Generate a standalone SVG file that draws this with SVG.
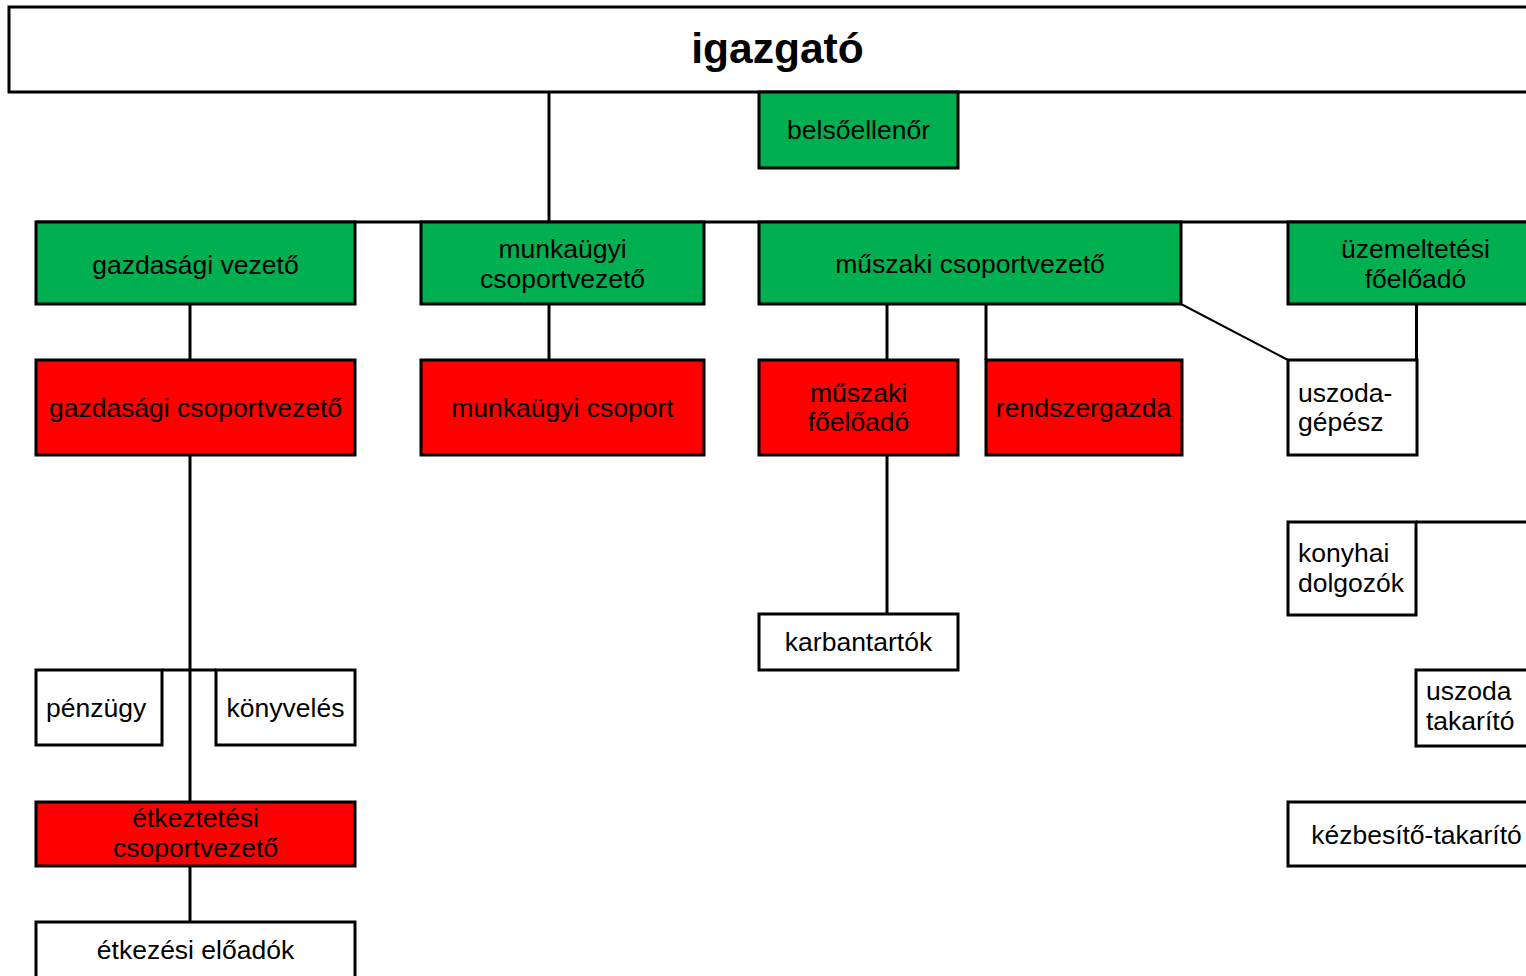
<svg xmlns="http://www.w3.org/2000/svg" width="1526" height="976" viewBox="0 0 1526 976">
<style>
rect{stroke:#000;stroke-width:3}
.w{fill:#fff}
.g{fill:#00B050}
.r{fill:#FF0000}
.bg{fill:#fff;stroke:none}
text{font-family:"Liberation Sans",Arial,sans-serif;font-size:26.5px;fill:#000}
.c{text-anchor:middle}
.t{font-size:42.5px;font-weight:bold}
.ln line{stroke:#000;stroke-width:3}
</style>
<rect class="bg" x="0" y="0" width="1526" height="976"/>
<g class="ln" id="connectors">
<line x1="549" y1="92" x2="549" y2="222"/>
<line x1="36" y1="222" x2="1540" y2="222"/>
<line x1="190" y1="304" x2="190" y2="360"/>
<line x1="549" y1="304" x2="549" y2="360"/>
<line x1="887" y1="304" x2="887" y2="360"/>
<line x1="986" y1="304" x2="986" y2="360"/>
<line x1="1416.5" y1="304" x2="1416.5" y2="360"/>
<line x1="1181" y1="304" x2="1288" y2="360" style="stroke-width:2"/>
<line x1="190" y1="455" x2="190" y2="802"/>
<line x1="162" y1="670" x2="216" y2="670"/>
<line x1="190" y1="866" x2="190" y2="922"/>
<line x1="887" y1="455" x2="887" y2="614"/>
<line x1="1416" y1="522" x2="1540" y2="522"/>
</g>
<g id="igazgato"><rect class="w" x="9" y="7" width="1530" height="85"/><text class="c t" x="777.5" y="63">igazgató</text></g>
<g id="belsoellenor"><rect class="g" x="759" y="92" width="199" height="76"/><text class="c" x="858.5" y="138.5">belsőellenőr</text></g>
<g id="gazdasagi-vezeto"><rect class="g" x="36" y="222" width="319" height="82"/><text class="c" x="195.5" y="273.5">gazdasági vezető</text></g>
<g id="munkaugyi-csoportvezeto"><rect class="g" x="421" y="222" width="283" height="82"/><text class="c" x="562.5" y="258">munkaügyi</text><text class="c" x="562.5" y="287.5">csoportvezető</text></g>
<g id="muszaki-csoportvezeto"><rect class="g" x="759" y="222" width="422" height="82"/><text class="c" x="970" y="273">műszaki csoportvezető</text></g>
<g id="uzemeltetesi-foeloado"><rect class="g" x="1288" y="222" width="260" height="82"/><text class="c" x="1415.5" y="258">üzemeltetési</text><text class="c" x="1415.5" y="288">főelőadó</text></g>
<g id="gazdasagi-csoportvezeto"><rect class="r" x="36" y="360" width="319" height="95"/><text class="c" x="195.5" y="417">gazdasági csoportvezető</text></g>
<g id="munkaugyi-csoport"><rect class="r" x="421" y="360" width="283" height="95"/><text class="c" x="562.5" y="417">munkaügyi csoport</text></g>
<g id="muszaki-foeloado"><rect class="r" x="759" y="360" width="199" height="95"/><text class="c" x="858.5" y="401.5">műszaki</text><text class="c" x="858.5" y="431">főelőadó</text></g>
<g id="rendszergazda"><rect class="r" x="986" y="360" width="196" height="95"/><text class="c" x="1083.5" y="417">rendszergazda</text></g>
<g id="uszoda-gepesz"><rect class="w" x="1288" y="360" width="129" height="95"/><text x="1298" y="401.5">uszoda-</text><text x="1298" y="431">gépész</text></g>
<g id="konyhai-dolgozok"><rect class="w" x="1288" y="522" width="128" height="93"/><text x="1298" y="562">konyhai</text><text x="1298" y="592">dolgozók</text></g>
<g id="karbantartok"><rect class="w" x="759" y="614" width="199" height="56"/><text class="c" x="858.5" y="651">karbantartók</text></g>
<g id="penzugy"><rect class="w" x="36" y="670" width="126" height="75"/><text x="46" y="717">pénzügy</text></g>
<g id="konyveles"><rect class="w" x="216" y="670" width="139" height="75"/><text class="c" x="285.5" y="717">könyvelés</text></g>
<g id="uszoda-takarito"><rect class="w" x="1416" y="670" width="130" height="76"/><text x="1426" y="699.5">uszoda</text><text x="1426" y="730">takarító</text></g>
<g id="etkeztetesi-csoportvezeto"><rect class="r" x="36" y="802" width="319" height="64"/><text class="c" x="195.5" y="827">étkeztetési</text><text class="c" x="195.5" y="857">csoportvezető</text></g>
<g id="kezbesito-takarito"><rect class="w" x="1288" y="802" width="260" height="64"/><text class="c" x="1416.5" y="844">kézbesítő-takarító</text></g>
<g id="etkezesi-eloadok"><rect class="w" x="36" y="922" width="319" height="70"/><text class="c" x="195.5" y="958.5">étkezési előadók</text></g>
</svg>
